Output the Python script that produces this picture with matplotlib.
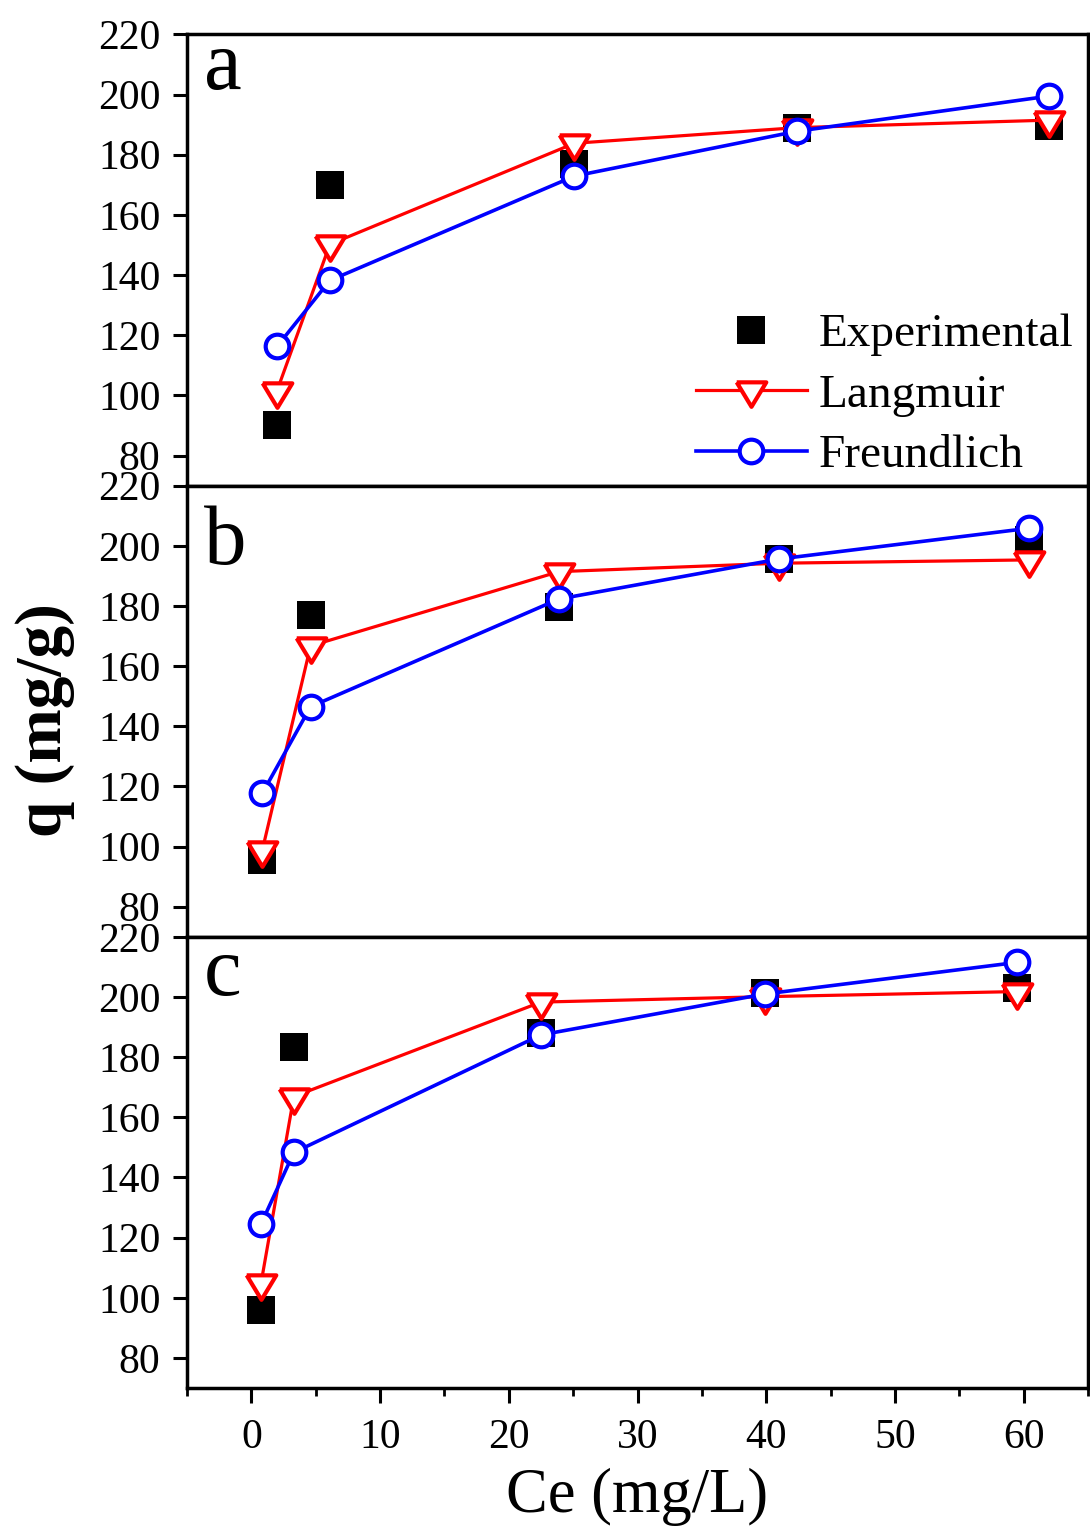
import numpy as np
import matplotlib
matplotlib.use('Agg')
import matplotlib.pyplot as plt
from matplotlib.ticker import MultipleLocator

plt.rcParams['font.family'] = ['Liberation Serif', 'DejaVu Serif']

# ── data ─────────────────────────────────────────────────────────────────────
ce_a = [2.0, 6.1, 25.1, 42.4, 62.0]
exp_a = [90.1, 169.9, 176.8, 188.8, 189.6]
lang_a = [101.6, 150.2, 183.8, 189.0, 191.5]
freu_a = [116.3, 138.2, 172.9, 187.8, 199.5]

ce_b = [0.85, 4.6, 23.9, 41.0, 60.4]
exp_b = [95.5, 177.0, 179.8, 195.6, 202.0]
lang_b = [98.8, 166.7, 191.4, 194.2, 195.3]
freu_b = [117.7, 146.5, 182.3, 195.6, 205.8]

ce_c = [0.75, 3.3, 22.5, 39.9, 59.5]
exp_c = [96.0, 183.5, 188.0, 201.2, 202.9]
lang_c = [104.8, 166.9, 198.3, 200.1, 201.8]
freu_c = [124.5, 148.3, 187.4, 201.0, 211.5]

panels = [('a', ce_a, exp_a, lang_a, freu_a),
          ('b', ce_b, exp_b, lang_b, freu_b),
          ('c', ce_c, exp_c, lang_c, freu_c)]
letter_y = {'a': 0.878, 'b': 0.826, 'c': 0.871}

# Origin-style down triangle, centred on its centroid
tri = [(-14.5, 8.0), (14.5, 8.0), (0.0, -16.0), (-14.5, 8.0)]

fig = plt.figure(figsize=(10.9, 15.28), dpi=100)
left, width, h = 187/1090, 901/1090, 0.2953
bottoms = [0.0916 + 2*h, 0.0916 + h, 0.0916]

axes = []
for (lab, ce, ex, la, fr), b in zip(panels, bottoms):
    ax = fig.add_axes([left, b, width, h])
    axes.append(ax)
    ax.plot(ce, ex, ls='none', marker='s', ms=19.5, mfc='black', mec='black',
            mew=0, label='Experimental', zorder=3)
    ax.plot(ce, la, color='#FF0000', lw=2.3, marker=tri, ms=23.5, mfc='white',
            mec='#FF0000', mew=3.0, label='Langmuir', zorder=4)
    ax.plot(ce, fr, color='#0000FF', lw=2.6, marker='o', ms=17, mfc='white',
            mec='#0000FF', mew=3.0, label='Freundlich', zorder=5)
    ax.set_xlim(-5, 65)
    ax.set_ylim(70, 220)
    ax.yaxis.set_major_locator(MultipleLocator(20))
    ax.xaxis.set_major_locator(MultipleLocator(10))
    ax.xaxis.set_minor_locator(MultipleLocator(5))
    for s in ax.spines.values():
        s.set_linewidth(2.5)
    ax.tick_params(axis='y', direction='out', length=10, width=2.2,
                   labelsize=30, pad=9)
    ax.tick_params(axis='x', which='major', direction='out', length=11,
                   width=2.2, labelsize=30, pad=11)
    ax.tick_params(axis='x', which='minor', direction='out', length=6, width=2.0)
    ax.text(0.019, letter_y[lab], lab, transform=ax.transAxes, fontsize=61,
            va='baseline', ha='left')

for ax in axes[:2]:
    ax.tick_params(axis='x', which='both', bottom=False, labelbottom=False)

leg = axes[0].legend(loc='lower right', bbox_to_anchor=(0.993, 0.0), frameon=False,
                     fontsize=34, handlelength=2.35, handletextpad=0.25,
                     labelspacing=0.37, borderaxespad=0.08, borderpad=0.1)

fig.text(45/1090, 1 - 720/1528, 'q (mg/g)', rotation=90, ha='center', va='center',
         fontsize=47, fontweight='bold')
fig.text(637/1090, 1 - 1512/1528, 'Ce (mg/L)', ha='center', va='baseline',
         fontsize=45)

fig.savefig('out.png', dpi=100)
